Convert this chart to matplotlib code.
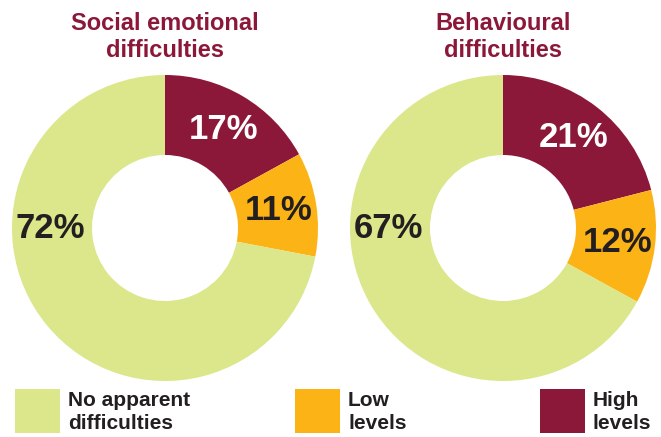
import numpy as np
import matplotlib.pyplot as plt
from matplotlib.patches import Rectangle

# shares in percent, drawn clockwise from 12 o'clock
categories = ['High levels', 'Low levels', 'No apparent difficulties']
legend_labels = ['No apparent\ndifficulties', 'Low\nlevels', 'High\nlevels']
titles = ['Social emotional\ndifficulties', 'Behavioural\ndifficulties']
social_emotional = [17, 11, 72]
behavioural = [21, 12, 67]

colors = ['#8C1839', '#FCB316', '#DCE68A']
text_colors = ['white', '#231F20', '#231F20']
title_color = '#8C1839'
dark_text = '#231F20'

W, H = 661, 437
fig = plt.figure(figsize=(W / 100, H / 100), dpi=100)

pct_font = ['Liberation Sans Narrow', 'Liberation Sans', 'DejaVu Sans']
body_font = ['Liberation Sans', 'DejaVu Sans']

R_OUT = 153
R_IN = 73
R_LABEL = 115


def donut(cx, cy, values, title):
    ax = fig.add_axes([(cx - R_OUT) / W, 1 - (cy + R_OUT) / H, 2 * R_OUT / W, 2 * R_OUT / H])
    ax.pie(values, colors=colors, startangle=90, counterclock=False, radius=1,
           wedgeprops=dict(width=1 - R_IN / R_OUT, linewidth=0))
    ax.set_xlim(-1, 1)
    ax.set_ylim(-1, 1)
    ax.set_aspect('equal')
    ax.axis('off')

    # percent labels: small slices at their mid angle, the large one at the left
    start = 90.0
    for v, tc in zip(values, text_colors):
        mid = start - v * 3.6 / 2
        start -= v * 3.6
        if v > 50:
            mid = 180
        r = R_LABEL / R_OUT
        ax.text(r * np.cos(np.radians(mid)), r * np.sin(np.radians(mid)), f'{v}%',
                ha='center', va='center', fontsize=25, fontweight='bold',
                color=tc, family=pct_font)

    fig.text(cx / W, 1 - 37 / H, title, ha='center', va='center', fontsize=17,
             fontweight='bold', color=title_color, family=body_font, linespacing=1.2)


donut(165, 228, social_emotional, titles[0])
donut(503, 228, behavioural, titles[1])

# legend squares with two-line labels
leg_x = [15, 295, 540]
leg_colors = [colors[2], colors[1], colors[0]]
for x, c, lab in zip(leg_x, leg_colors, legend_labels):
    fig.patches.append(Rectangle((x / W, 1 - 433 / H), 45 / W, 44 / H,
                                 transform=fig.transFigure, facecolor=c,
                                 edgecolor='none'))
    fig.text((x + 53) / W, 1 - 412 / H, lab, ha='left', va='center', fontsize=15,
             fontweight='bold', color=dark_text, family=body_font, linespacing=1.25)

fig.savefig('out.png', dpi=100)
